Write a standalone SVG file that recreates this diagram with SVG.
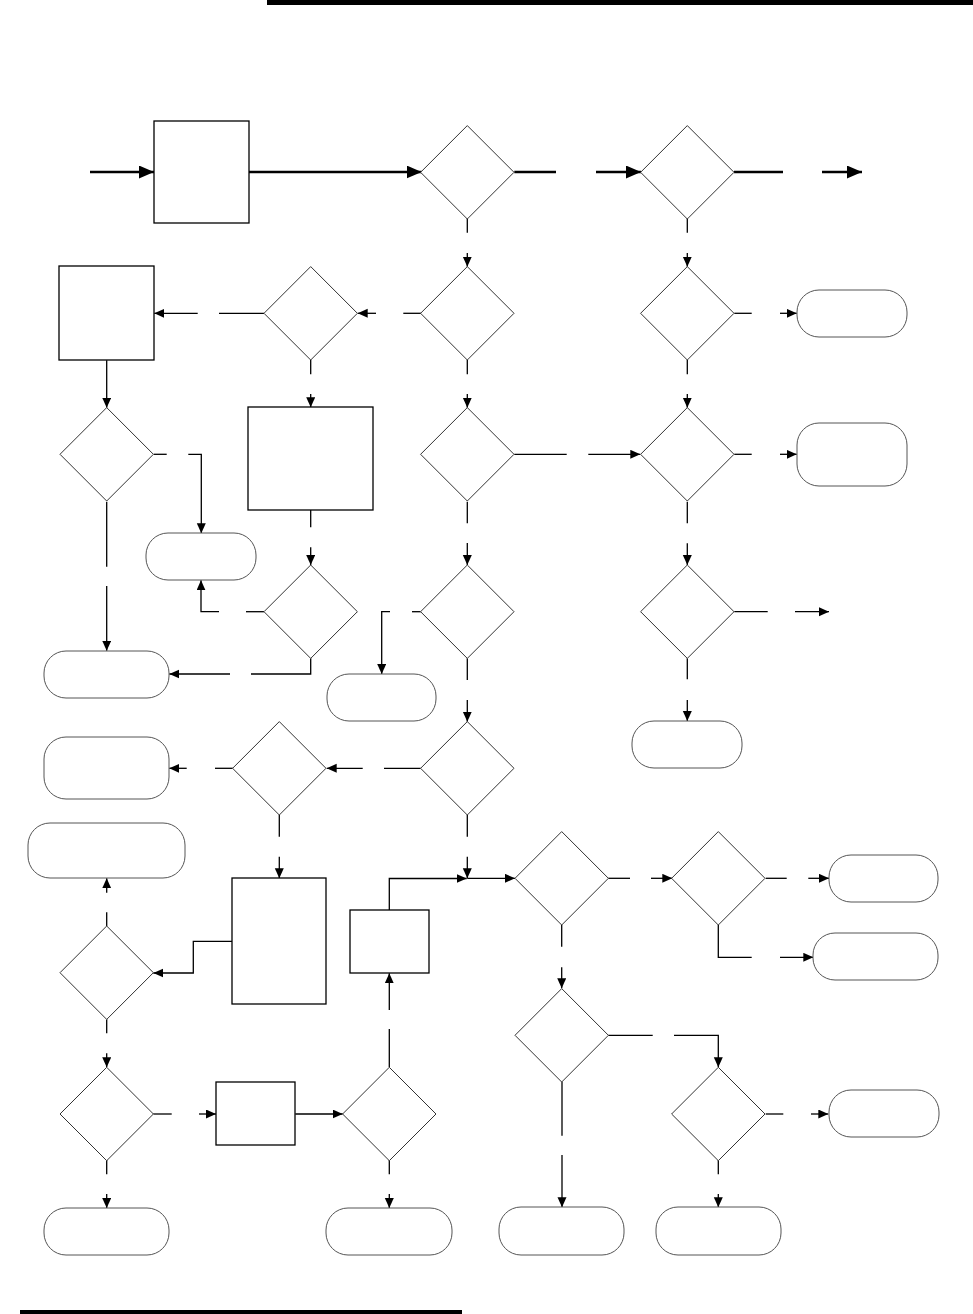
<svg xmlns="http://www.w3.org/2000/svg" width="973" height="1314" viewBox="0 0 973 1314">
<style>
.d{fill:#fff;stroke:#333;stroke-width:1}
.r{fill:#fff;stroke:#000;stroke-width:1.3}
.t{fill:#fff;stroke:#555;stroke-width:1}
.c{fill:none;stroke:#000;stroke-width:1.3}
.a{fill:none;stroke:#000;stroke-width:1.3;marker-end:url(#ah)}
.ct{fill:none;stroke:#000;stroke-width:2.5}
.at{fill:none;stroke:#000;stroke-width:2.5;marker-end:url(#ab)}
</style>
<defs>
<marker id="ah" markerUnits="userSpaceOnUse" markerWidth="11" markerHeight="10" refX="10" refY="4.5" orient="auto"><path d="M0,0 L10,4.5 L0,9 z" fill="#000"/></marker>
<marker id="ab" markerUnits="userSpaceOnUse" markerWidth="16" markerHeight="14" refX="15" refY="6.5" orient="auto"><path d="M0,0 L15,6.5 L0,13 z" fill="#000"/></marker>
</defs>
<rect x="267" y="0" width="706" height="5" fill="#000"/>
<rect x="20" y="1310" width="442" height="4" fill="#000"/>

<g id="connectors">
<path class="at" d="M90,172 H154"/>
<path class="at" d="M249,172 H421.7"/>
<path class="ct" d="M514.3,172 H556"/>
<path class="at" d="M596,172 H641"/>
<path class="ct" d="M734,172 H783"/>
<path class="at" d="M822,172 H862"/>

<path class="c" d="M467.3,218.3 V232.7"/><path class="a" d="M467.3,253 V266.7"/>
<path class="c" d="M687.3,218.3 V232.7"/><path class="a" d="M687.3,253 V266.7"/>
<path class="c" d="M421,313.3 H403.3"/><path class="a" d="M376,313.3 H357.7"/>
<path class="c" d="M264,313.3 H219"/><path class="a" d="M197.7,313.3 H154.3"/>
<path class="c" d="M734.3,313.3 H751.7"/><path class="a" d="M780,313.3 H796.7"/>
<path class="a" d="M106.7,360.3 V407.7"/>
<path class="c" d="M310.7,360 V374.3"/><path class="a" d="M310.7,394 V407.3"/>
<path class="c" d="M467.3,360 V374.3"/><path class="a" d="M467.3,394 V407.7"/>
<path class="c" d="M687.3,360 V374.3"/><path class="a" d="M687.3,394 V407.7"/>
<path class="c" d="M153.7,454.3 H166.7"/><path class="a" d="M188.3,454.3 H201.3 V533.3"/>
<path class="c" d="M106.7,501.7 V566.7"/><path class="a" d="M106.7,586 V650.7"/>
<path class="c" d="M514.3,454.3 H566.7"/><path class="a" d="M588.3,454.3 H640.3"/>
<path class="c" d="M734.3,454.3 H751.7"/><path class="a" d="M780,454.3 H796.7"/>
<path class="c" d="M310.7,510 V527.3"/><path class="a" d="M310.7,547.3 V565"/>
<path class="c" d="M467.3,501.7 V523.3"/><path class="a" d="M467.3,543 V565"/>
<path class="c" d="M687.3,501.7 V523.3"/><path class="a" d="M687.3,543.3 V565"/>
<path class="c" d="M264,611.7 H246"/><path class="a" d="M219,611.7 H201 V580.3"/>
<path class="c" d="M310.7,658.3 V674 H251"/><path class="a" d="M230,674 H169.3"/>
<path class="c" d="M420.7,611.7 H412"/><path class="a" d="M390,611.7 H381.7 V674"/>
<path class="c" d="M467.3,658.3 V680"/><path class="a" d="M467.3,700 V721.7"/>
<path class="c" d="M734.3,611.7 H767.7"/><path class="a" d="M795,611.7 H829"/>
<path class="c" d="M687.3,658.3 V679.3"/><path class="a" d="M687.3,700 V721"/>
<path class="c" d="M420.7,768.3 H384"/><path class="a" d="M362.7,768.3 H326.7"/>
<path class="c" d="M232.7,768.3 H215"/><path class="a" d="M186.7,768.3 H169.3"/>
<path class="c" d="M279.3,815 V836.7"/><path class="a" d="M279.3,856.7 V878.3"/>
<path class="c" d="M467.3,815 V836.7"/><path class="a" d="M467.3,856.7 V878.3"/>
<path class="a" d="M389.3,910 V878.5 H466.7"/>
<path class="a" d="M467.3,878.3 H515"/>
<path class="a" d="M232.3,941.3 H193.3 V973 H153.3"/>
<path class="c" d="M106.7,926 V912.3"/><path class="a" d="M106.7,892.7 V878.3"/>
<path class="c" d="M106.7,1019.3 V1033.3"/><path class="a" d="M106.7,1053.3 V1067.3"/>
<path class="c" d="M608.3,878.3 H630"/><path class="a" d="M651,878.3 H672.3"/>
<path class="c" d="M765.7,878.3 H786.7"/><path class="a" d="M808.3,878.3 H829"/>
<path class="c" d="M718.3,925 V957.3 H751.7"/><path class="a" d="M780,957.3 H813.3"/>
<path class="c" d="M561.7,925 V946.7"/><path class="a" d="M561.7,967.3 V988.3"/>
<path class="c" d="M608.3,1035.3 H652.7"/><path class="a" d="M674,1035.3 H718.3 V1067.3"/>
<path class="c" d="M562,1081.7 V1135.7"/><path class="a" d="M562,1155 V1207.3"/>
<path class="c" d="M389.3,1067.3 V1029"/><path class="a" d="M389.3,1010 V973.3"/>
<path class="c" d="M153.3,1114 H171.7"/><path class="a" d="M199,1114 H216"/>
<path class="a" d="M295.3,1114 H342.7"/>
<path class="c" d="M106.7,1160 V1174.3"/><path class="a" d="M106.7,1194 V1208"/>
<path class="c" d="M389.3,1160 V1174.3"/><path class="a" d="M389.3,1194 V1208"/>
<path class="c" d="M765.7,1114 H783.3"/><path class="a" d="M811,1114 H828.3"/>
<path class="c" d="M718.3,1160 V1174.3"/><path class="a" d="M718.3,1194 V1207.3"/>
</g>

<g id="R1"><rect class="r" x="154" y="121" width="95" height="102"/></g>
<g id="R2"><rect class="r" x="59" y="266" width="95" height="94"/></g>
<g id="R3"><rect class="r" x="248" y="407" width="125" height="103"/></g>
<g id="R4"><rect class="r" x="232" y="878" width="94" height="126"/></g>
<g id="R5"><rect class="r" x="350" y="910" width="79" height="63"/></g>
<g id="R6"><rect class="r" x="216" y="1082" width="79" height="63"/></g>

<g id="D1"><polygon class="d" points="467.3,125.6 514,172.3 467.3,219 420.6,172.3"/></g>
<g id="D2"><polygon class="d" points="687.3,125.6 734,172.3 687.3,219 640.6,172.3"/></g>
<g id="D3"><polygon class="d" points="467.3,266.6 514,313.3 467.3,360 420.6,313.3"/></g>
<g id="D4"><polygon class="d" points="310.7,266.6 357.4,313.3 310.7,360 264,313.3"/></g>
<g id="D5"><polygon class="d" points="687.3,266.6 734,313.3 687.3,360 640.6,313.3"/></g>
<g id="D6"><polygon class="d" points="106.7,407.6 153.4,454.3 106.7,501 60,454.3"/></g>
<g id="D7"><polygon class="d" points="467.3,407.6 514,454.3 467.3,501 420.6,454.3"/></g>
<g id="D8"><polygon class="d" points="687.3,407.6 734,454.3 687.3,501 640.6,454.3"/></g>
<g id="D9"><polygon class="d" points="310.7,565 357.4,611.7 310.7,658.4 264,611.7"/></g>
<g id="D10"><polygon class="d" points="467.3,565 514,611.7 467.3,658.4 420.6,611.7"/></g>
<g id="D11"><polygon class="d" points="687.3,565 734,611.7 687.3,658.4 640.6,611.7"/></g>
<g id="D12"><polygon class="d" points="467.3,721.6 514,768.3 467.3,815 420.6,768.3"/></g>
<g id="D13"><polygon class="d" points="279.3,721.6 326,768.3 279.3,815 232.6,768.3"/></g>
<g id="D14"><polygon class="d" points="561.7,831.6 608.4,878.3 561.7,925 515,878.3"/></g>
<g id="D15"><polygon class="d" points="718.3,831.6 765,878.3 718.3,925 671.6,878.3"/></g>
<g id="D16"><polygon class="d" points="106.7,926 153.4,972.7 106.7,1019.4 60,972.7"/></g>
<g id="D17"><polygon class="d" points="561.7,988.6 608.4,1035.3 561.7,1082 515,1035.3"/></g>
<g id="D18"><polygon class="d" points="106.7,1067.3 153.4,1114 106.7,1160.7 60,1114"/></g>
<g id="D19"><polygon class="d" points="389.3,1067.3 436,1114 389.3,1160.7 342.6,1114"/></g>
<g id="D20"><polygon class="d" points="718.3,1067.3 765,1114 718.3,1160.7 671.6,1114"/></g>

<g id="T1"><rect class="t" x="797" y="290" width="110" height="47" rx="22" ry="22"/></g>
<g id="T2"><rect class="t" x="797" y="423" width="110" height="63" rx="22" ry="22"/></g>
<g id="T3"><rect class="t" x="146" y="533" width="110" height="47" rx="22" ry="22"/></g>
<g id="T4"><rect class="t" x="44" y="651" width="125" height="47" rx="22" ry="22"/></g>
<g id="T5"><rect class="t" x="327" y="674" width="109" height="47" rx="22" ry="22"/></g>
<g id="T6"><rect class="t" x="632" y="721" width="110" height="47" rx="22" ry="22"/></g>
<g id="T7"><rect class="t" x="44" y="737" width="125" height="62" rx="22" ry="22"/></g>
<g id="T8"><rect class="t" x="28" y="823" width="157" height="55" rx="22" ry="22"/></g>
<g id="T9"><rect class="t" x="829" y="855" width="109" height="47" rx="22" ry="22"/></g>
<g id="T10"><rect class="t" x="813" y="933" width="125" height="47" rx="22" ry="22"/></g>
<g id="T11"><rect class="t" x="829" y="1090" width="110" height="47" rx="22" ry="22"/></g>
<g id="T12"><rect class="t" x="44" y="1208" width="125" height="47" rx="22" ry="22"/></g>
<g id="T13"><rect class="t" x="326" y="1208" width="126" height="47" rx="22" ry="22"/></g>
<g id="T14"><rect class="t" x="499" y="1207" width="125" height="48" rx="22" ry="22"/></g>
<g id="T15"><rect class="t" x="656" y="1207" width="125" height="48" rx="22" ry="22"/></g>
</svg>
